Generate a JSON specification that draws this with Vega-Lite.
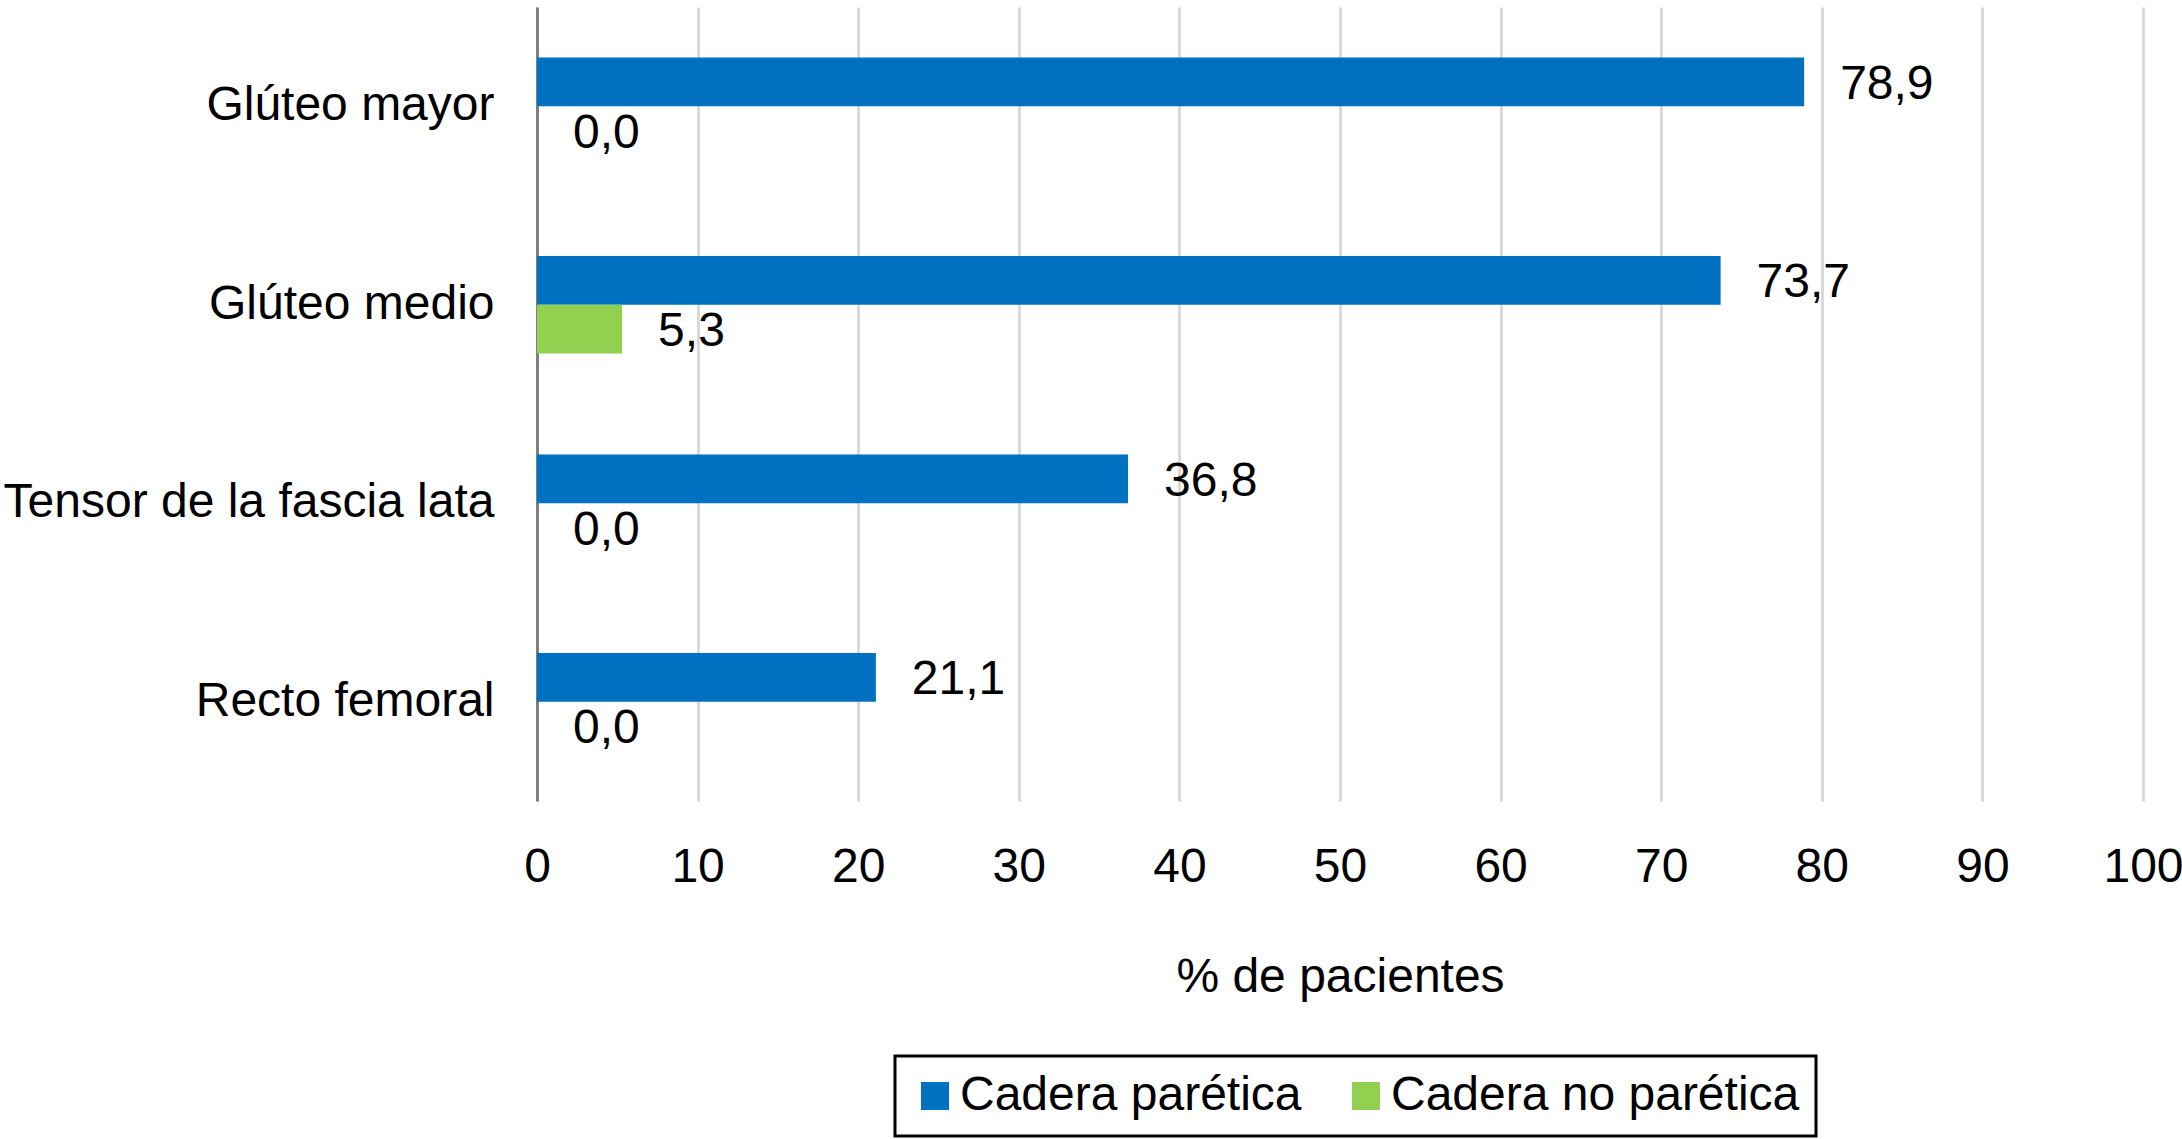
{
  "$schema": "https://vega.github.io/schema/vega-lite/v6.json",
  "autosize": {"type": "none"},
  "width": 1606,
  "height": 794,
  "padding": {"left": 537, "top": 7, "right": 39, "bottom": 338},
  "background": "white",
  "config": {
    "locale": {"number": {"decimal": ",", "thousands": ".", "grouping": [3], "currency": ["", " €"]}},
    "font": "Liberation Sans",
    "view": {"stroke": null}
  },
  "data": {
    "values": [
      {"musculo": "Glúteo mayor", "cadera": "Cadera parética", "pct": 78.9},
      {"musculo": "Glúteo mayor", "cadera": "Cadera no parética", "pct": 0.0},
      {"musculo": "Glúteo medio", "cadera": "Cadera parética", "pct": 73.7},
      {"musculo": "Glúteo medio", "cadera": "Cadera no parética", "pct": 5.3},
      {"musculo": "Tensor de la fascia lata", "cadera": "Cadera parética", "pct": 36.8},
      {"musculo": "Tensor de la fascia lata", "cadera": "Cadera no parética", "pct": 0.0},
      {"musculo": "Recto femoral", "cadera": "Cadera parética", "pct": 21.1},
      {"musculo": "Recto femoral", "cadera": "Cadera no parética", "pct": 0.0}
    ]
  },
  "encoding": {
    "y": {
      "field": "musculo",
      "type": "nominal",
      "sort": ["Glúteo mayor", "Glúteo medio", "Tensor de la fascia lata", "Recto femoral"],
      "scale": {"paddingInner": 0.51, "paddingOuter": 0.255},
      "axis": {
        "title": null,
        "ticks": false,
        "labelFontSize": 48,
        "labelColor": "black",
        "labelPadding": 43,
        "labelLimit": 0,
        "domainColor": "#808080",
        "domainWidth": 3,
        "grid": false
      }
    },
    "yOffset": {
      "field": "cadera",
      "type": "nominal",
      "sort": ["Cadera parética", "Cadera no parética"]
    },
    "x": {
      "field": "pct",
      "type": "quantitative",
      "scale": {"domain": [0, 100], "nice": false},
      "axis": {
        "title": "% de pacientes",
        "titleFontSize": 48,
        "titleFontWeight": "normal",
        "titleColor": "black",
        "titlePadding": 62,
        "values": [0, 10, 20, 30, 40, 50, 60, 70, 80, 90, 100],
        "format": "d",
        "labelFontSize": 48,
        "labelColor": "black",
        "labelPadding": 42,
        "labelOverlap": false,
        "labelBound": false,
        "labelFlush": false,
        "ticks": false,
        "domain": false,
        "grid": true,
        "gridColor": "#D9D9D9",
        "gridWidth": 3
      }
    }
  },
  "layer": [
    {
      "mark": {"type": "bar"},
      "encoding": {
        "color": {
          "field": "cadera",
          "type": "nominal",
          "sort": ["Cadera parética", "Cadera no parética"],
          "scale": {"domain": ["Cadera parética", "Cadera no parética"], "range": ["#0070C0", "#92D050"]},
          "legend": {
            "title": null,
            "orient": "none",
            "direction": "horizontal",
            "legendX": 358,
            "legendY": 1049,
            "symbolType": "square",
            "symbolSize": 784,
            "symbolStrokeWidth": 0,
            "labelFontSize": 48,
            "labelColor": "black",
            "labelOffset": 1,
            "columnPadding": 40,
            "padding": 16,
            "strokeColor": "black",
            "fillColor": "white",
            "labelLimit": 0,
            "encode": {"legend": {"update": {"strokeWidth": {"value": 3}}}}
          }
        }
      }
    },
    {
      "mark": {"type": "text", "align": "left", "baseline": "middle", "dx": 36, "dy": 3, "fontSize": 48, "color": "black"},
      "encoding": {
        "text": {"field": "pct", "type": "quantitative", "format": ".1f"}
      }
    }
  ]
}
